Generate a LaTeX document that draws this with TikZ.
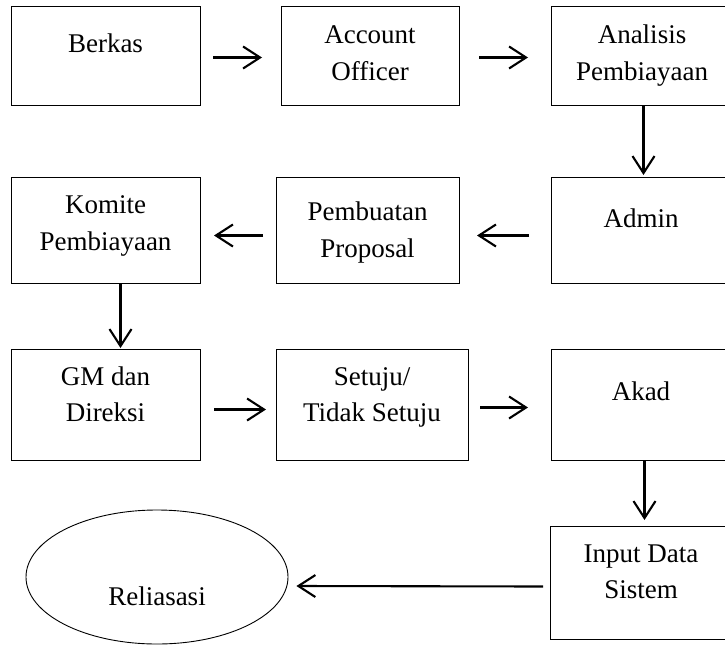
\documentclass[tikz,border=0pt]{standalone}
\usepackage{fontspec}
\setmainfont{Liberation Serif}
\usetikzlibrary{arrows.meta,shapes.geometric}
\begin{document}
\begin{tikzpicture}[x=1pt,y=-1pt,
  boxnode/.style={draw=black,line width=1pt,rectangle,inner sep=0pt,anchor=north west},
  txt/.style={anchor=base,inner sep=0pt,font=\fontsize{27pt}{37pt}\selectfont},
  flow/.style={line width=2.1pt,-{Straight Barb[length=17pt,width=22pt,line width=2.1pt]}}]
\useasboundingbox (0,0) rectangle (725,645);
\clip (0,0) rectangle (725,645);
% boxes
\node[boxnode,minimum width=189pt,minimum height=99pt] (b1) at (11,6) {};
\node[boxnode,minimum width=178pt,minimum height=99pt] (b2) at (281,6) {};
\node[boxnode,minimum width=182pt,minimum height=99pt] (b3) at (551,6) {};
\node[boxnode,minimum width=189pt,minimum height=106pt] (b4) at (11,177) {};
\node[boxnode,minimum width=183pt,minimum height=106pt] (b5) at (276,177) {};
\node[boxnode,minimum width=182pt,minimum height=106pt] (b6) at (551,177) {};
\node[boxnode,minimum width=189pt,minimum height=111pt] (b7) at (11,349) {};
\node[boxnode,minimum width=192pt,minimum height=111pt] (b8) at (276,349) {};
\node[boxnode,minimum width=182pt,minimum height=111pt] (b9) at (551,349) {};
\node[boxnode,minimum width=183pt,minimum height=113pt] (b10) at (550,526) {};
\node[draw=black,line width=0.9pt,ellipse,inner sep=0pt,minimum width=262pt,minimum height=134pt] (ell) at (157,577) {};
% texts
\node[txt] (t1) at (105.5,52) {Berkas};
\node[txt] (t2a) at (370,43) {Account};
\node[txt] (t2b) at (370,80) {Officer};
\node[txt] (t3a) at (642,43) {Analisis};
\node[txt] (t3b) at (642,80) {Pembiayaan};
\node[txt] (t4a) at (105.5,213) {Komite};
\node[txt] (t4b) at (105.5,250) {Pembiayaan};
\node[txt] (t5a) at (367.5,220) {Pembuatan};
\node[txt] (t5b) at (367.5,257) {Proposal};
\node[txt] (t6) at (641,227) {Admin};
\node[txt] (t7a) at (105.5,385) {GM dan};
\node[txt] (t7b) at (105.5,421) {Direksi};
\node[txt] (t8a) at (372,385) {Setuju/};
\node[txt] (t8b) at (372,421) {Tidak Setuju};
\node[txt] (t9) at (641,400) {Akad};
\node[txt] (t10a) at (641,562) {Input Data};
\node[txt] (t10b) at (641,598) {Sistem};
\node[txt] (t11) at (157,605) {Reliasasi};
% connectors
\draw[flow] ([xshift=12pt,yshift=-1.5pt]b1.east) -- ([xshift=-19pt,yshift=-1.5pt]b2.west);
\draw[flow] ([xshift=19pt,yshift=-1.5pt]b2.east) -- ([xshift=-23pt,yshift=-1.5pt]b3.west);
\draw[flow] ([xshift=1pt]b3.south) -- ([xshift=1pt,yshift=2pt]b6.north);
\draw[flow] ([xshift=-22pt,yshift=-5pt]b6.west) -- ([xshift=17pt,yshift=-5pt]b5.east);
\draw[flow] ([xshift=-13pt,yshift=-5pt]b5.west) -- ([xshift=13pt,yshift=-5pt]b4.east);
\draw[flow] ([xshift=14.5pt]b4.south) -- ([xshift=14.5pt,yshift=1pt]b7.north);
\draw[flow] ([xshift=13pt,yshift=-4.5pt]b7.east) -- ([xshift=-10pt,yshift=-4.5pt]b8.west);
\draw[flow] ([xshift=11pt,yshift=-2.5pt]b8.east) -- ([xshift=-23pt,yshift=-2.5pt]b9.west);
\draw[flow] ([xshift=2pt]b9.south) -- ([xshift=2.5pt,yshift=6pt]b10.north);
\draw[flow] ([xshift=-7pt,yshift=-3.5pt]b10.west) -- ([xshift=8pt,yshift=-9pt]ell.east);
\end{tikzpicture}
\end{document}
